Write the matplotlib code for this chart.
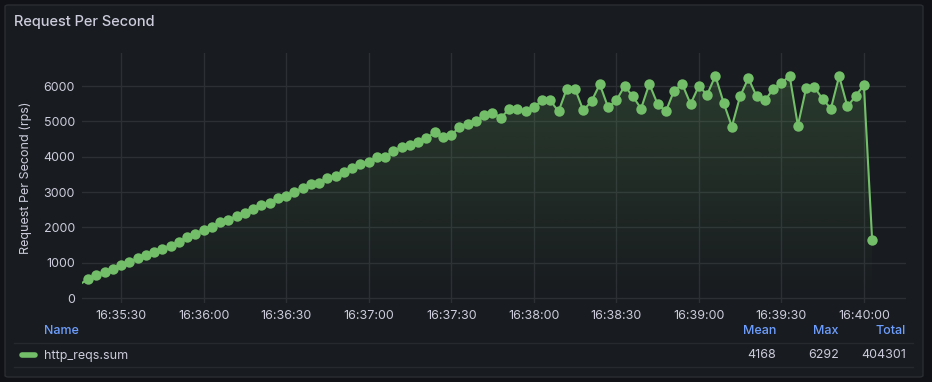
import numpy as np
import pandas as pd
import matplotlib.pyplot as plt
import matplotlib.dates as mdates
from matplotlib.patches import FancyBboxPatch
from matplotlib.lines import Line2D

plt.rcParams['font.family'] = ['Inter', 'DejaVu Sans']

# data: one sample every 3 s starting at 16:35:15
start_time = '2024-01-01 16:35:15'
step = '3s'
rps = [390, 530, 650, 740, 830, 940, 1020, 1120, 1210, 1290, 1380, 1470,
       1590, 1720, 1820, 1930, 2020, 2140, 2210, 2320, 2420, 2530, 2640, 2690,
       2830, 2900, 3010, 3100, 3220, 3250, 3410, 3440, 3580, 3670, 3800, 3860,
       3990, 4000, 4150, 4270, 4320, 4410, 4520, 4690, 4570, 4600, 4850, 4930,
       5010, 5180, 5250, 5100, 5340, 5340, 5280, 5400, 5590, 5590, 5280, 5920,
       5920, 5310, 5570, 6050, 5400, 5590, 6000, 5710, 5360, 6060, 5490, 5280,
       5870, 6050, 5490, 6000, 5750, 6290, 5530, 4850, 5710, 6220, 5710, 5590,
       5910, 6080, 6292, 4880, 5940, 5970, 5630, 5360, 6280, 5420, 5720, 6030, 1630]
series_name = 'http_reqs.sum'
stat_names = ['Mean', 'Max', 'Total']
stat_values = ['4168', '6292', '404301']

times = pd.date_range(start_time, periods=len(rps), freq=step)

# colours
bg_outer = '#111217'
bg_panel = '#181b1f'
border = '#2a2d33'
grid_c = '#2c2f34'
text_c = '#ccccdc'
green = '#73bf69'
blue = '#6e9fff'

W, H = 932, 382
fig = plt.figure(figsize=(W / 100, H / 100), dpi=100)
fig.patch.set_facecolor(bg_outer)


def fx(x):
    return x / W


def fy(y):
    return 1 - y / H


# panel
panel = FancyBboxPatch((fx(5), fy(377)), fx(918), 372 / H,
                       boxstyle='round,pad=0,rounding_size=0.004',
                       transform=fig.transFigure, facecolor=bg_panel,
                       edgecolor=border, linewidth=1, zorder=-5)
fig.patches.append(panel)

fig.text(fx(14), fy(22), 'Request Per Second', color=text_c, fontsize=10.5,
         fontweight='medium', ha='left', va='center')

ax = fig.add_axes([fx(82), fy(303), fx(906 - 82), (303 - 53) / H])
ax.set_zorder(2)
ax.patch.set_alpha(0)
for s in ax.spines.values():
    s.set_visible(False)

ymin, ymax = -141, 6934
xmin = pd.Timestamp('2024-01-01 16:35:15.8')
xmax = pd.Timestamp('2024-01-01 16:40:15.3')

# gradient fill under the line
poly = ax.fill_between(times, rps, 0, facecolor='none', edgecolor='none')
grad = np.zeros((256, 1, 4))
rgb = np.array([0x73, 0xbf, 0x69]) / 255
grad[:, 0, :3] = rgb
grad[:, 0, 3] = np.linspace(0.22, 0.0, 256)
img = ax.imshow(grad, extent=[mdates.date2num(xmin), mdates.date2num(xmax), 0, ymax],
                aspect='auto', origin='upper', zorder=1)
img.set_clip_path(poly.get_paths()[0], transform=ax.transData)

# the first sample lies just outside the visible range: line only, no dot
ax.plot(times, rps, color=green, linewidth=1.5, marker='o', markersize=7.5,
        markeredgewidth=0, markevery=slice(1, None), zorder=3)

ax.set_xlim(xmin, xmax)
ax.set_ylim(ymin, ymax)
ax.set_yticks(range(0, 7000, 1000))
ax.xaxis.set_major_locator(mdates.SecondLocator(bysecond=[0, 30]))
ax.xaxis.set_major_formatter(mdates.DateFormatter('%H:%M:%S'))
ax.grid(True, color=grid_c, linewidth=1)
ax.set_axisbelow(True)
ax.tick_params(length=0, colors=text_c, labelsize=9)
ax.tick_params(axis='y', pad=5)
ax.tick_params(axis='x', pad=5)
ax.set_ylabel('Request Per Second (rps)', color=text_c, fontsize=9, labelpad=8)

# legend table
fig.text(fx(44), fy(331), 'Name', color=blue, fontsize=9, fontweight='medium',
         ha='left', va='center')
stat_x = [776, 839, 906]
for name, val, x in zip(stat_names, stat_values, stat_x):
    fig.text(fx(x), fy(331), name, color=blue, fontsize=9, fontweight='medium',
             ha='right', va='center')
    fig.text(fx(x), fy(355.5), val, color=text_c, fontsize=9,
             ha='right', va='center')
for y in (343, 367):
    fig.add_artist(Line2D([fx(14), fx(913)], [fy(y), fy(y)], color='#26292e',
                          linewidth=1, transform=fig.transFigure))
fig.add_artist(Line2D([fx(22), fx(35)], [fy(355), fy(355)], color=green,
                      linewidth=4, solid_capstyle='round', transform=fig.transFigure))
fig.text(fx(44), fy(355.5), series_name, color=text_c, fontsize=9,
         ha='left', va='center')

fig.savefig('out.png', dpi=100, facecolor=fig.get_facecolor())
